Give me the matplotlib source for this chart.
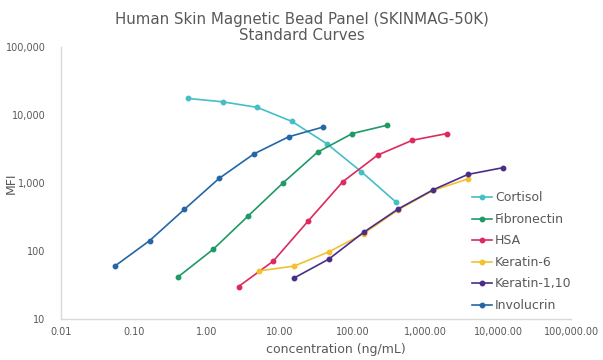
# Standardkurven des Human Skin Magnetic Bead Panels (SKINMAG-50K) nachzeichnen.

import matplotlib.pyplot as plt
from matplotlib.ticker import FixedLocator, FixedFormatter, NullLocator

# Konzentrationen (ng/mL) und MFI-Werte je Analyt
cortisol_x = [0.55, 1.65, 4.94, 14.8, 44.4, 133, 400]
cortisol_y = [17600, 15700, 13000, 8070, 3800, 1465, 520]

fibronectin_x = [0.41, 1.23, 3.7, 11.1, 33.3, 100, 300]
fibronectin_y = [42, 106, 327, 1000, 2850, 5360, 7100]

hsa_x = [2.74, 8.2, 24.7, 74, 222, 667, 2000]
hsa_y = [30, 71, 276, 1050, 2580, 4270, 5360]

keratin6_x = [5.27, 15.8, 47.4, 142, 427, 1280, 3840]
keratin6_y = [51, 60, 97, 180, 405, 780, 1150]

keratin110_x = [15.8, 47.4, 142, 427, 1280, 3840, 11520]
keratin110_y = [40, 76, 188, 417, 795, 1340, 1680]

involucrin_x = [0.055, 0.165, 0.494, 1.48, 4.44, 13.3, 40]
involucrin_y = [60, 142, 410, 1170, 2680, 4790, 6700]

x_ticks = [0.01, 0.1, 1, 10, 100, 1000, 10000, 100000]
x_labels = ['0.01', '0.10', '1.00', '10.00', '100.00', '1,000.00', '10,000.00', '100,000.00']
y_ticks = [10, 100, 1000, 10000, 100000]
y_labels = ['10', '100', '1,000', '10,000', '100,000']

series = [
    ('Cortisol', cortisol_x, cortisol_y, '#45BEC6'),
    ('Fibronectin', fibronectin_x, fibronectin_y, '#1F9A66'),
    ('HSA', hsa_x, hsa_y, '#DD2A5E'),
    ('Keratin-6', keratin6_x, keratin6_y, '#F4C02E'),
    ('Keratin-1,10', keratin110_x, keratin110_y, '#4B2D88'),
    ('Involucrin', involucrin_x, involucrin_y, '#2566A6'),
]

grau = '#595959'

fig = plt.figure(figsize=(6.03, 3.6), dpi=100)
ax = fig.add_axes([0.101, 0.114, 0.846, 0.755])

for name, xs, ys, col in series:
    ax.plot(xs, ys, color=col, lw=1.2, marker='o', ms=3.2, label=name)

ax.set_xscale('log')
ax.set_yscale('log')
ax.set_xlim(0.01, 100000)
ax.set_ylim(10, 100000)

ax.xaxis.set_major_locator(FixedLocator(x_ticks))
ax.xaxis.set_major_formatter(FixedFormatter(x_labels))
ax.xaxis.set_minor_locator(NullLocator())
ax.yaxis.set_major_locator(FixedLocator(y_ticks))
ax.yaxis.set_major_formatter(FixedFormatter(y_labels))
ax.yaxis.set_minor_locator(NullLocator())
ax.tick_params(length=0, labelsize=7, labelcolor=grau)
ax.tick_params(axis='x', pad=6)
ax.tick_params(axis='y', pad=11)

for s in ['top', 'right']:
    ax.spines[s].set_visible(False)
for s in ['left', 'bottom']:
    ax.spines[s].set_color('#D9D9D9')
    ax.spines[s].set_linewidth(1)

# Titel und Achsenbeschriftungen
fig.text(0.5, 0.968, 'Human Skin Magnetic Bead Panel (SKINMAG-50K)\nStandard Curves',
         ha='center', va='top', fontsize=10.8, color=grau, linespacing=1.1)
fig.text(0.557, 0.03, 'concentration (ng/mL)', ha='center', va='center',
         fontsize=9, color=grau)
fig.text(0.018, 0.492, 'MFI', ha='center', va='center', rotation=90,
         fontsize=9, color=grau)

ax.legend(loc='upper left', bbox_to_anchor=(0.775, 0.482), frameon=False,
          fontsize=9, labelcolor=grau, handlelength=1.6, handletextpad=0.2,
          labelspacing=0.68, borderaxespad=0, bbox_transform=fig.transFigure)

plt.savefig('out.png', dpi=100)
